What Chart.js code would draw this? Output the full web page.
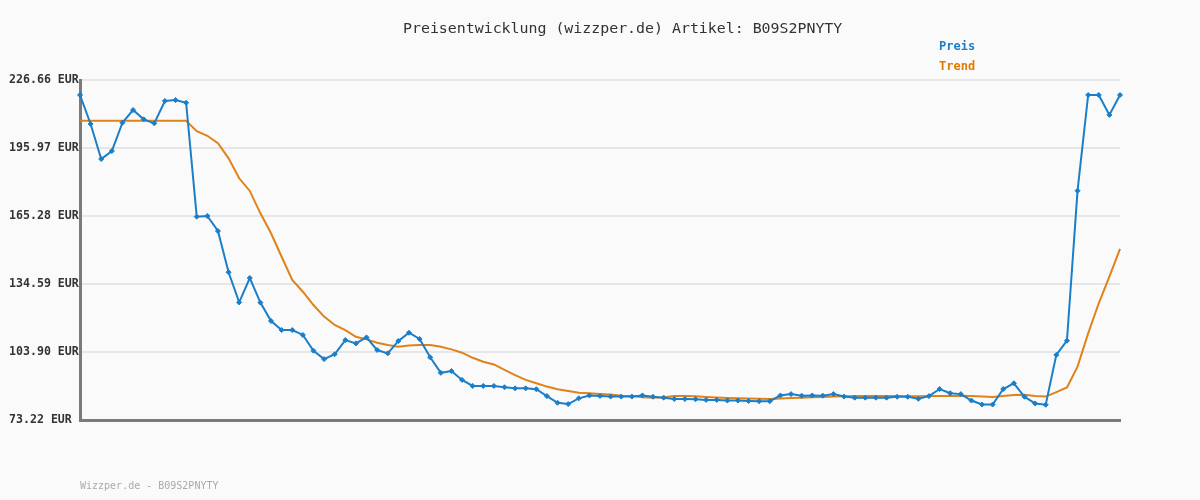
<!DOCTYPE html>
<html>
<head>
<meta charset="utf-8">
<script src="https://cdn.jsdelivr.net/npm/chart.js@4"></script>
<style>
  html, body { margin: 0; padding: 0; background: #fafafa; }
  #wrap { position: relative; width: 1200px; height: 500px; background: #fafafa; }
  #c { position: absolute; left: 0; top: 0; }
  .txt { position: absolute; font-family: "DejaVu Sans Mono", monospace; white-space: nowrap; }
  #title { left: 403px; top: 19px; font-size: 14.9px; color: #333; }
  #lg1 { left: 939px; top: 39px; font-size: 12px; font-weight: bold; color: #1a7fcb; }
  #lg2 { left: 939px; top: 59px; font-size: 12px; font-weight: bold; color: #e07b00; }
  #foot { left: 80px; top: 480px; font-size: 10px; color: #aaa; }
</style>
</head>
<body>
<div id="wrap">
  <canvas id="c" width="1200" height="500"></canvas>
  <div class="txt" id="title">Preisentwicklung (wizzper.de) Artikel: B09S2PNYTY</div>
  <div class="txt" id="lg1">Preis</div>
  <div class="txt" id="lg2">Trend</div>
  <div class="txt" id="foot">Wizzper.de - B09S2PNYTY</div>
</div>
<script>
const yTicks = [73.22, 103.90, 134.59, 165.28, 195.97, 226.66];

const preis = [219.9, 206.8, 191.0, 194.6, 207.4, 213.1, 208.9, 207.1, 217.2, 217.6, 216.4,
  165.0, 165.3, 158.5, 139.9, 126.3, 137.3, 126.2, 117.9, 113.8, 113.8,
  111.6, 104.5, 100.7, 102.9, 109.3, 107.8, 110.5, 104.8, 103.3, 108.9,
  112.6, 109.8, 101.5, 94.5, 95.3, 91.3, 88.6, 88.6, 88.6, 88.0,
  87.5, 87.5, 87.1, 84.0, 81.0, 80.4, 83.0, 84.3, 84.1, 83.8,
  83.8, 83.8, 84.3, 83.7, 83.3, 82.7, 82.7, 82.6, 82.3, 82.3,
  82.0, 82.0, 81.8, 81.7, 81.7, 84.3, 84.9, 84.2, 84.3, 84.2,
  84.9, 83.8, 83.3, 83.3, 83.3, 83.3, 83.7, 83.7, 82.8, 84.0,
  87.2, 85.3, 84.9, 82.0, 80.2, 80.2, 87.2, 89.8, 83.7, 80.7,
  80.1, 102.6, 109.0, 176.7, 219.9, 219.9, 210.9, 219.9];

const trend = [208.3, 208.3, 208.3, 208.3, 208.3, 208.3, 208.3, 208.3, 208.3, 208.3, 208.3,
  203.6, 201.5, 198.1, 191.3, 182.3, 176.6, 166.5, 157.5, 146.9, 136.4,
  131.1, 125.1, 119.9, 116.1, 113.8, 110.8, 109.6, 108.1, 107.1, 106.3,
  106.8, 107.1, 107.1, 106.3, 105.1, 103.6, 101.3, 99.5, 98.3, 95.8,
  93.5, 91.3, 89.8, 88.3, 87.1, 86.3, 85.5, 85.3, 85.0, 84.7,
  84.2, 84.0, 83.5, 83.3, 83.5, 84.0, 84.0, 83.9, 83.6, 83.4,
  83.2, 83.0, 82.9, 82.8, 82.7, 82.9, 83.1, 83.3, 83.5, 83.6,
  83.8, 83.9, 84.0, 84.0, 84.0, 84.0, 84.0, 83.9, 83.9, 84.0,
  84.0, 84.1, 84.2, 84.0, 83.8, 83.6, 84.0, 84.5, 84.6, 84.1,
  83.8, 85.8, 87.9, 97.3, 112.3, 125.9, 137.9, 150.4];

const labels = preis.map((_, i) => String(i + 1));

new Chart(document.getElementById('c'), {
  type: 'line',
  data: {
    labels: labels,
    datasets: [
      {
        label: 'Trend',
        data: trend,
        borderColor: '#e0821a',
        borderWidth: 2,
        pointRadius: 0,
        tension: 0,
        order: 2
      },
      {
        label: 'Preis',
        data: preis,
        borderColor: '#1a7ec8',
        backgroundColor: '#1a7ec8',
        borderWidth: 2,
        pointStyle: 'rectRot',
        pointRadius: 2.5,
        pointBorderWidth: 1,
        tension: 0,
        order: 1
      }
    ]
  },
  options: {
    responsive: false,
    animation: false,
    devicePixelRatio: 1,
    layout: { padding: { left: 9, right: 80, top: 80, bottom: 80 } },
    plugins: { legend: { display: false }, title: { display: false }, tooltip: { enabled: false } },
    scales: {
      x: {
        type: 'category',
        offset: false,
        ticks: { display: false },
        grid: { display: false, drawTicks: false },
        border: { display: true, color: '#7a7a7a', width: 3 },
        afterFit: (s) => { s.height = 0; }
      },
      y: {
        min: 73.22,
        max: 226.66,
        afterBuildTicks: (s) => { s.ticks = yTicks.map(v => ({ value: v })); },
        afterFit: (s) => { s.width = 71; },
        ticks: {
          crossAlign: 'far',
          color: '#333',
          font: { family: 'DejaVu Sans Mono', size: 11.6, weight: 'bold' },
          callback: (v) => Number(v).toFixed(2) + ' EUR'
        },
        grid: { color: '#e6e6e6', lineWidth: 2, drawTicks: false, tickLength: 0 },
        border: { display: true, color: '#7a7a7a', width: 3 }
      }
    }
  }
});
</script>
</body>
</html>
